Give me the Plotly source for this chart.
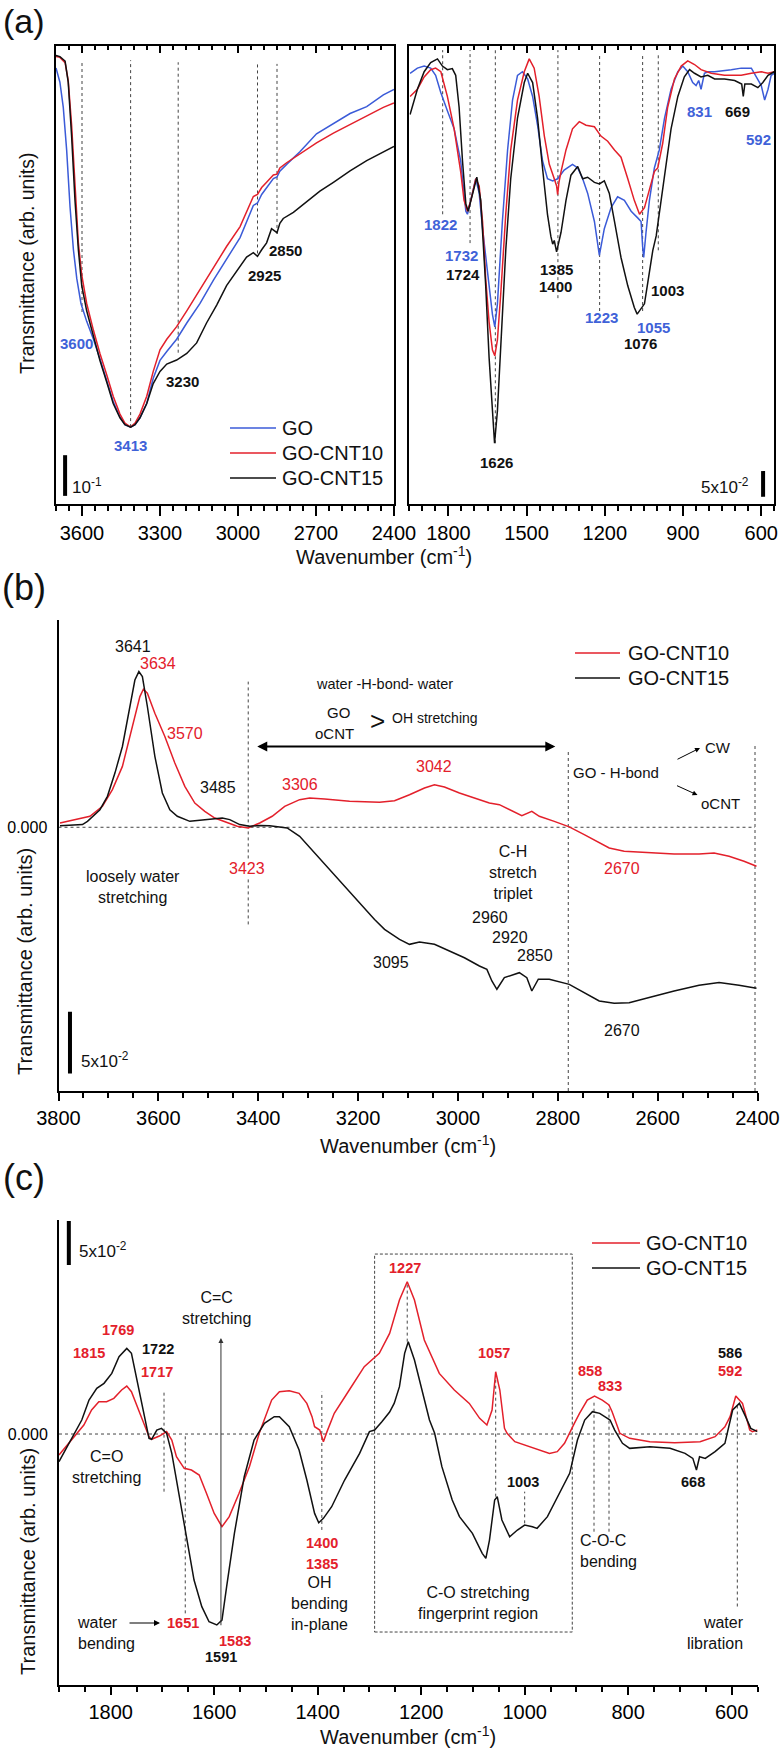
import plotly.graph_objects as go

W, H = 780, 1753
FONT = "Liberation Sans, Arial, Helvetica, sans-serif"
BLUE = "#3b5bd8"
RED = "#e3202b"
BLACK = "#111111"
GREY = "#444444"

# ---------------- panel (a) left : 3700-2400 cm-1 ----------------
a1_go_wn = [3700,3685,3672,3659,3646,3633,3620,3604,3582,3556,3531,3505,3480,3454,3435,3413,3396,3377,3351,3326,3300,3274,3236,3197,3146,3095,3044,2992,2941,2925,2909,2890,2864,2850,2839,2813,2762,2698,2633,2569,2505,2441,2400]
a1_go = [1.072,1.037,0.975,0.870,0.730,0.625,0.554,0.493,0.449,0.405,0.357,0.304,0.252,0.214,0.195,0.189,0.195,0.212,0.247,0.309,0.353,0.375,0.405,0.445,0.493,0.550,0.603,0.655,0.734,0.740,0.761,0.778,0.800,0.804,0.818,0.835,0.866,0.910,0.936,0.960,0.977,1.006,1.019]
a1_c10_wn = [3700,3685,3665,3653,3640,3627,3614,3601,3582,3556,3531,3505,3480,3454,3435,3413,3396,3377,3351,3326,3300,3274,3236,3197,3146,3095,3044,2992,2941,2925,2909,2890,2864,2850,2839,2813,2762,2698,2633,2569,2505,2441,2400]
a1_c10 = [1.100,1.098,1.085,1.041,0.932,0.774,0.642,0.563,0.493,0.427,0.370,0.318,0.265,0.221,0.199,0.189,0.199,0.221,0.265,0.326,0.379,0.405,0.436,0.475,0.528,0.581,0.633,0.682,0.756,0.761,0.778,0.791,0.809,0.811,0.826,0.839,0.861,0.888,0.912,0.933,0.956,0.975,0.986]
a1_c15_wn = [3700,3685,3665,3653,3640,3627,3614,3601,3582,3556,3531,3505,3480,3454,3435,3413,3396,3377,3351,3326,3300,3274,3236,3197,3159,3121,3082,3044,3005,2967,2941,2925,2909,2890,2871,2850,2839,2826,2787,2736,2685,2633,2569,2505,2441,2400]
a1_c15 = [1.103,1.100,1.089,1.037,0.905,0.747,0.625,0.537,0.475,0.414,0.353,0.300,0.247,0.212,0.195,0.189,0.195,0.212,0.247,0.296,0.326,0.344,0.354,0.370,0.396,0.445,0.489,0.537,0.572,0.607,0.618,0.609,0.625,0.642,0.677,0.667,0.690,0.702,0.717,0.743,0.769,0.791,0.819,0.844,0.866,0.879]

# ---------------- panel (a) right : 1950-550 cm-1 ----------------
a2_go_wn = [1947,1919,1893,1868,1849,1829,1804,1778,1753,1733,1727,1714,1695,1682,1669,1650,1631,1622,1612,1593,1573,1554,1535,1516,1496,1477,1458,1439,1420,1400,1381,1356,1324,1304,1285,1266,1240,1221,1202,1176,1151,1125,1099,1074,1061,1055,1051,1042,1029,1010,991,971,946,920,901,882,863,850,840,831,818,805,779,715,677,638,619,600,587,574,562,550]
a2_go = [0.837,0.847,0.851,0.847,0.833,0.799,0.764,0.729,0.667,0.569,0.563,0.590,0.632,0.604,0.535,0.451,0.368,0.344,0.389,0.549,0.688,0.785,0.833,0.840,0.826,0.792,0.736,0.667,0.632,0.628,0.632,0.649,0.660,0.653,0.632,0.604,0.549,0.483,0.535,0.576,0.597,0.590,0.569,0.556,0.549,0.500,0.479,0.528,0.590,0.653,0.688,0.750,0.806,0.840,0.851,0.840,0.819,0.813,0.823,0.806,0.837,0.840,0.840,0.844,0.847,0.847,0.830,0.813,0.785,0.806,0.833,0.837]
a2_c10_wn = [1947,1919,1893,1868,1849,1829,1804,1778,1753,1740,1727,1714,1695,1682,1669,1657,1644,1631,1622,1612,1599,1580,1561,1535,1509,1490,1471,1452,1432,1413,1394,1385,1381,1376,1368,1349,1324,1298,1272,1240,1215,1189,1163,1138,1112,1087,1067,1048,1029,1010,1003,997,978,959,933,907,882,856,831,792,741,677,638,600,574,550]
a2_c10 = [0.792,0.806,0.830,0.844,0.847,0.840,0.792,0.729,0.646,0.590,0.569,0.590,0.632,0.618,0.549,0.438,0.354,0.299,0.288,0.319,0.410,0.563,0.688,0.785,0.840,0.865,0.847,0.792,0.715,0.660,0.632,0.618,0.601,0.625,0.646,0.688,0.729,0.743,0.736,0.733,0.715,0.705,0.688,0.674,0.632,0.590,0.563,0.576,0.611,0.646,0.650,0.653,0.701,0.771,0.826,0.851,0.861,0.854,0.844,0.837,0.833,0.833,0.837,0.840,0.837,0.840]
a2_c15_wn = [1947,1919,1893,1868,1842,1823,1804,1785,1772,1759,1746,1733,1724,1708,1691,1676,1657,1644,1631,1623,1612,1599,1580,1561,1535,1509,1496,1477,1458,1439,1420,1407,1400,1394,1385,1368,1349,1330,1304,1285,1266,1240,1221,1202,1183,1163,1138,1112,1087,1076,1048,1035,1016,1003,991,971,946,920,895,875,856,831,805,779,741,702,675,669,663,638,613,594,574,550]
a2_c15 = [0.757,0.806,0.840,0.858,0.865,0.851,0.844,0.846,0.833,0.771,0.667,0.583,0.569,0.604,0.635,0.590,0.424,0.285,0.181,0.118,0.181,0.319,0.493,0.632,0.750,0.819,0.837,0.819,0.750,0.653,0.563,0.520,0.505,0.512,0.490,0.528,0.590,0.639,0.656,0.632,0.635,0.625,0.622,0.628,0.604,0.549,0.479,0.424,0.382,0.369,0.389,0.431,0.493,0.521,0.563,0.632,0.729,0.792,0.830,0.844,0.837,0.830,0.833,0.826,0.826,0.823,0.816,0.792,0.816,0.816,0.809,0.819,0.833,0.840]

# ---------------- panel (b) : difference spectra 3800-2400 ----------------
b_c10_wn = [3797,3767,3737,3712,3692,3672,3652,3637,3630,3622,3607,3587,3567,3547,3527,3507,3487,3467,3442,3420,3397,3372,3347,3317,3297,3267,3217,3157,3127,3097,3067,3047,3027,2997,2967,2937,2917,2897,2872,2852,2837,2807,2777,2747,2717,2697,2667,2617,2567,2517,2487,2457,2427,2402]
b_c10 = [0.0035,0.0062,0.0089,0.0169,0.0304,0.0492,0.0815,0.1056,0.1116,0.1083,0.0922,0.0734,0.0519,0.0331,0.0196,0.0129,0.0075,0.0048,0.0008,-0.0005,0.0035,0.0089,0.0169,0.0223,0.0237,0.0228,0.0210,0.0202,0.0215,0.0263,0.0317,0.0344,0.0325,0.0277,0.0237,0.0196,0.0183,0.0142,0.0094,0.0129,0.0089,0.0048,0.0003,-0.0059,-0.0126,-0.0167,-0.0194,-0.0207,-0.0215,-0.0215,-0.0207,-0.0234,-0.0274,-0.0315]
b_c15_wn = [3797,3752,3742,3717,3702,3687,3672,3659,3647,3639,3632,3622,3607,3592,3577,3562,3537,3517,3497,3472,3457,3437,3417,3397,3377,3342,3317,3287,3257,3227,3197,3167,3147,3117,3097,3077,3047,3017,2987,2957,2942,2932,2922,2907,2877,2862,2852,2839,2817,2777,2747,2717,2687,2657,2617,2567,2517,2477,2437,2402]
b_c15 = [0.0013,0.0022,0.0048,0.0142,0.0250,0.0438,0.0653,0.0922,0.1190,0.1258,0.1218,0.0976,0.0573,0.0277,0.0142,0.0089,0.0048,0.0056,0.0067,0.0075,0.0062,0.0022,0.0008,0.0015,0.0013,-0.0005,-0.0073,-0.0207,-0.0341,-0.0476,-0.0610,-0.0745,-0.0825,-0.0906,-0.0946,-0.0927,-0.0946,-0.1000,-0.1054,-0.1121,-0.1148,-0.1242,-0.1309,-0.1215,-0.1175,-0.1215,-0.1323,-0.1228,-0.1228,-0.1269,-0.1336,-0.1403,-0.1422,-0.1417,-0.1376,-0.1323,-0.1277,-0.1255,-0.1277,-0.1301]

# ---------------- panel (c) : difference spectra 1900-550 ----------------
c_c10_wn = [1900,1881,1861,1852,1837,1823,1808,1794,1779,1769,1760,1745,1731,1726,1721,1706,1692,1682,1673,1658,1644,1629,1615,1600,1585,1571,1552,1532,1513,1503,1489,1474,1455,1436,1421,1411,1406,1396,1389,1382,1368,1339,1310,1281,1261,1242,1227,1213,1194,1165,1136,1107,1087,1073,1063,1056,1048,1039,1034,1019,1000,971,952,937,923,904,894,879,865,850,837,831,821,816,797,758,710,661,632,613,603,592,579,565,560,550]
c_c10 = [-0.0239,-0.0106,0.0027,0.0102,0.0273,0.0367,0.0367,0.0405,0.0500,0.0545,0.0481,0.0254,0.0045,-0.0030,-0.0060,-0.0023,0.0027,-0.0068,-0.0258,-0.0390,-0.0409,-0.0466,-0.0674,-0.0902,-0.1053,-0.0939,-0.0674,-0.0371,0.0008,0.0159,0.0386,0.0481,0.0492,0.0462,0.0348,0.0197,0.0083,0.0045,-0.0087,0.0027,0.0235,0.0500,0.0765,0.0917,0.1144,0.1523,0.1731,0.1523,0.1068,0.0689,0.0500,0.0348,0.0178,0.0102,0.0273,0.0708,0.0500,0.0064,0.0008,-0.0087,-0.0125,-0.0182,-0.0220,-0.0200,-0.0106,0.0121,0.0235,0.0386,0.0432,0.0386,0.0330,0.0254,0.0102,0.0008,-0.0049,-0.0087,-0.0098,-0.0087,-0.0030,0.0083,0.0197,0.0432,0.0348,0.0045,0.0027,0.0045]
c_c15_wn = [1900,1881,1866,1856,1842,1827,1813,1798,1784,1769,1760,1745,1731,1726,1721,1711,1702,1692,1682,1668,1653,1639,1624,1610,1595,1585,1576,1561,1542,1523,1503,1484,1474,1455,1436,1421,1406,1398,1389,1373,1348,1319,1300,1290,1276,1261,1252,1242,1232,1225,1213,1198,1184,1174,1160,1140,1126,1101,1082,1075,1068,1058,1053,1044,1029,1014,1000,985,976,956,932,913,898,884,869,855,840,835,826,811,797,758,719,690,675,668,662,651,632,613,598,585,573,563,550]
c_c15 = [-0.0314,-0.0106,0.0064,0.0159,0.0386,0.0519,0.0576,0.0689,0.0879,0.0973,0.0917,0.0500,0.0083,-0.0049,-0.0060,0.0045,0.0064,0.0008,-0.0220,-0.0674,-0.1205,-0.1659,-0.1962,-0.2133,-0.2170,-0.2114,-0.1735,-0.1129,-0.0485,-0.0068,0.0121,0.0197,0.0197,0.0083,-0.0182,-0.0523,-0.0902,-0.1008,-0.0958,-0.0826,-0.0523,-0.0220,0.0027,0.0045,0.0140,0.0250,0.0350,0.0538,0.0917,0.1049,0.0841,0.0500,0.0159,0.0008,-0.0371,-0.0750,-0.0939,-0.1129,-0.1356,-0.1413,-0.1205,-0.0750,-0.0712,-0.0977,-0.1167,-0.1091,-0.1034,-0.1053,-0.1072,-0.0939,-0.0674,-0.0447,-0.0068,0.0159,0.0254,0.0235,0.0178,0.0159,0.0045,-0.0106,-0.0163,-0.0144,-0.0163,-0.0220,-0.0277,-0.0409,-0.0258,-0.0277,-0.0200,-0.0106,0.0273,0.0348,0.0197,0.0064,0.0027]

for a, b in [(a1_go_wn, a1_go), (a1_c10_wn, a1_c10), (a1_c15_wn, a1_c15), (a2_go_wn, a2_go),
             (a2_c10_wn, a2_c10), (a2_c15_wn, a2_c15), (b_c10_wn, b_c10), (b_c15_wn, b_c15),
             (c_c10_wn, c_c10), (c_c15_wn, c_c15)]:
    assert len(a) == len(b), (len(a), len(b))

# marker lines (peak positions): (wavenumber, y_low, y_high)
a1_marks = [(3600, 0.472, 1.086), (3413, 0.189, 1.091), (3230, 0.372, 1.086), (2925, 0.616, 1.082), (2850, 0.664, 1.082)]
a2_marks = [(1822, 0.563, 0.882), (1717, 0.507, 0.882), (1620, 0.118, 0.882), (1380, 0.400, 0.882),
            (1220, 0.375, 0.875), (1055, 0.375, 0.875), (995, 0.493, 0.875)]
b_marks = [(3420, -0.0785, 0.1177), (2779, -0.2131, 0.0632), (2405, -0.2131, 0.068)]
c_marks = [(1697, -0.0655, 0.050), (1656, -0.2038, 0.0), (1392, -0.109, 0.0481), (1227, 0.105, 0.171),
           (1056, -0.0712, 0.0614), (1000, -0.1015, -0.0655), (866, -0.111, 0.0386), (837, -0.111, 0.033),
           (589, -0.196, 0.0348)]


def P(x, y):
    return x / W, 1 - y / H


def dom_x(x0, x1):
    return [x0 / W, x1 / W]


def dom_y(y0, y1):
    return [1 - y1 / H, 1 - y0 / H]


fig = go.Figure()


def add_line(x, y, color, xa, ya):
    fig.add_trace(go.Scatter(x=x, y=y, mode="lines", line=dict(color=color, width=1.5),
                             xaxis=xa, yaxis=ya, showlegend=False, hoverinfo="skip"))


add_line(a1_go_wn, a1_go, BLUE, "x", "y")
add_line(a1_c10_wn, a1_c10, RED, "x", "y")
add_line(a1_c15_wn, a1_c15, BLACK, "x", "y")
add_line(a2_go_wn, a2_go, BLUE, "x2", "y2")
add_line(a2_c10_wn, a2_c10, RED, "x2", "y2")
add_line(a2_c15_wn, a2_c15, BLACK, "x2", "y2")
add_line(b_c10_wn, b_c10, RED, "x3", "y3")
add_line(b_c15_wn, b_c15, BLACK, "x3", "y3")
add_line(c_c10_wn, c_c10, RED, "x4", "y4")
add_line(c_c15_wn, c_c15, BLACK, "x4", "y4")
# empty traces to instantiate the top (inside-tick) axes of panel (a)
fig.add_trace(go.Scatter(x=[], y=[], xaxis="x5", yaxis="y", showlegend=False))
fig.add_trace(go.Scatter(x=[], y=[], xaxis="x6", yaxis="y2", showlegend=False))

tickfont = dict(family=FONT, size=20, color="black")


def xax(domain, rng, dtick, anchor, ticklen, mirror=False):
    return dict(domain=domain, range=rng, dtick=dtick, tick0=0, anchor=anchor, showline=True,
                linecolor="black", linewidth=2, mirror=mirror, ticks="outside", ticklen=ticklen,
                tickwidth=1.5, tickcolor="black", tickfont=tickfont, showgrid=False, zeroline=False,
                automargin=False,
                minor=dict(dtick=50, tick0=0, ticks="outside", ticklen=5, tickwidth=1.5, tickcolor="black",
                           showgrid=False))


def xtop(over, rng, anchor):
    return dict(overlaying=over, side="top", anchor=anchor, range=rng, dtick=300, tick0=0,
                ticks="inside", ticklen=7, tickwidth=1.5, tickcolor="black", showticklabels=False,
                showline=False, showgrid=False, zeroline=False, automargin=False,
                minor=dict(dtick=50, tick0=0, ticks="inside", ticklen=4, tickwidth=1.5, tickcolor="black",
                           showgrid=False))


def yax_box(domain, rng, anchor):
    return dict(domain=domain, range=rng, anchor=anchor, showline=True, mirror=True, linecolor="black",
                linewidth=2, ticks="", showticklabels=False, showgrid=False, zeroline=False, automargin=False)


def yax_diff(domain, rng, anchor):
    return dict(domain=domain, range=rng, anchor=anchor, showline=True, linecolor="black", linewidth=2,
                ticks="", tickvals=[0], ticktext=["0.000"], ticklabelstandoff=6, automargin=False,
                tickfont=dict(family=FONT, size=16, color="black"), showgrid=False, zeroline=False)


A1_X = [3700, 2400]
A2_X = [1950, 550]
layout = dict(
    width=W, height=H, margin=dict(l=0, r=0, t=0, b=0, autoexpand=False), paper_bgcolor="white",
    plot_bgcolor="white", showlegend=False, font=dict(family=FONT, color="black"),
    xaxis=xax(dom_x(56, 394), A1_X, 300, "y", 10, mirror=True),
    yaxis=yax_box(dom_y(46, 504), [0, 1.126], "x"),
    xaxis2=xax(dom_x(409.3, 774.3), A2_X, 300, "y2", 10, mirror=True),
    yaxis2=yax_box(dom_y(46, 504), [0, 0.890], "x2"),
    xaxis3=xax(dom_x(58.5, 757.5), [3800, 2400], 200, "y3", 8),
    yaxis3=yax_diff(dom_y(620, 1091), [-0.2131, 0.1675], "x3"),
    xaxis4=xax(dom_x(59, 757.5), [1900, 550], 200, "y4", 8),
    yaxis4=yax_diff(dom_y(1220, 1685), [-0.2852, 0.2432], "x4"),
    xaxis5=xtop("x", A1_X, "y"),
    xaxis6=xtop("x2", A2_X, "y2"),
)
fig.update_layout(**layout)

shapes = []
DOT = dict(color=GREY, width=1, dash="dot")


def vmark(xr, yr, wn, y0, y1, line=DOT):
    shapes.append(dict(type="line", xref=xr, yref=yr, x0=wn, x1=wn, y0=y0, y1=y1, line=line, layer="below"))


for wn, y0, y1 in a1_marks:
    vmark("x", "y", wn, y0, y1)
for wn, y0, y1 in a2_marks:
    vmark("x2", "y2", wn, y0, y1)
for wn, y0, y1 in b_marks:
    vmark("x3", "y3", wn, y0, y1)
for wn, y0, y1 in c_marks:
    vmark("x4", "y4", wn, y0, y1)

# zero lines
shapes.append(dict(type="line", xref="x3", yref="y3", x0=3800, x1=2405, y0=0, y1=0, line=DOT, layer="below"))
shapes.append(dict(type="line", xref="x4", yref="y4", x0=1900, x1=550, y0=0, y1=0, line=DOT, layer="below"))
# fingerprint region box
shapes.append(dict(type="rect", xref="x4", yref="y4", x0=1290, x1=908, y0=-0.225, y1=0.2045,
                   line=dict(color=GREY, width=1, dash="3px,2px"), layer="below"))

# scale bars
BAR = dict(color="black", width=4)
shapes.append(dict(type="line", xref="x", yref="y", x0=3665, x1=3665, y0=0.02, y1=0.12, line=BAR))
shapes.append(dict(type="line", xref="x2", yref="y2", x0=593, x1=593, y0=0.014, y1=0.064, line=BAR))
shapes.append(dict(type="line", xref="x3", yref="y3", x0=3777, x1=3777, y0=-0.199, y1=-0.149, line=BAR))
shapes.append(dict(type="line", xref="x4", yref="y4", x0=1881, x1=1881, y0=0.192, y1=0.242, line=BAR))

anns = []


def T(text, x, y, size=16, color=BLACK, bold=False, xanchor="center", align="center", angle=0, bg=None):
    xp, yp = P(x, y)
    if bold:
        text = "<b>" + text + "</b>"
    d = dict(text=text, x=xp, y=yp, xref="paper", yref="paper", showarrow=False, xanchor=xanchor,
             yanchor="middle", align=align, textangle=angle, borderpad=0,
             font=dict(family=FONT, size=size, color=color))
    if bg:
        d["bgcolor"] = bg
    anns.append(d)


def legend(x0, x1, ys, names, colors, tx):
    for y, n, c in zip(ys, names, colors):
        a, b = P(x0, y)
        c2, _ = P(x1, y)
        shapes.append(dict(type="line", xref="paper", yref="paper", x0=a, x1=c2, y0=b, y1=b,
                           line=dict(color=c, width=1.5)))
        T(n, tx, y, 20, xanchor="left")


LBL_BLUE = "#3f62d8"
LBL_RED = "#e3202b"

# ---- panel (a) texts
T("(a)", 24, 21, 34)
T("Transmittance (arb. units)", 27, 264, 19.5, angle=-90)
T("Wavenumber (cm<sup>-1</sup>)", 384, 555, 20)
for t, x, y in [("3600", 76, 343.6), ("3413", 130.7, 445.7)]:
    T(t, x, y, 15, LBL_BLUE, True)
for t, x, y in [("3230", 182.7, 381.4), ("2925", 264, 275), ("2850", 285, 250)]:
    T(t, x, y, 15, BLACK, True)
legend(230, 276, [427.9, 452.9, 477.9], ["GO", "GO-CNT10", "GO-CNT15"], [BLUE, RED, BLACK], 281)
T("10<sup>-1</sup>", 71, 486, 17, xanchor="left")
for t, x, y in [("1822", 440, 224.3), ("1732", 461.7, 255.4), ("1223", 601.7, 317.1), ("1055", 653.3, 327.5),
                ("831", 699, 111.8), ("592", 758.3, 139.3)]:
    T(t, x, y, 15, LBL_BLUE, True)
for t, x, y in [("1724", 462.7, 274.3), ("1626", 496.7, 462.5), ("1385", 556, 269.6), ("1400", 555.7, 286.8),
                ("1076", 640, 343.6), ("1003", 667.3, 291), ("669", 737.3, 111.8)]:
    T(t, x, y, 15, BLACK, True)
T("5x10<sup>-2</sup>", 750, 485.7, 17, xanchor="right")

# ---- panel (b) texts
T("(b)", 24, 587, 36)
T("Transmittance (arb. units)", 25, 962, 20, angle=-90)
T("Wavenumber (cm<sup>-1</sup>)", 408, 1144, 20)
for t, x, y in [("3641", 132.5, 646), ("3485", 217.5, 787), ("2960", 490, 918), ("2920", 510, 937),
                ("2850", 535, 956), ("3095", 391, 963), ("2670", 621.5, 1030)]:
    T(t, x, y, 16, BLACK)
for t, x, y in [("3634", 157.5, 663), ("3570", 185, 733), ("3306", 300, 784), ("3042", 434, 767),
                ("2670", 621.5, 868)]:
    T(t, x, y, 16, LBL_RED)
T("3423", 246.5, 868, 16, LBL_RED, bg="white")
T("water -H-bond- water", 384, 684, 14.5)
T("GO", 338, 712, 15)
T("oCNT", 334, 733, 15)
T(">", 377, 721, 26)
T("OH stretching", 435, 718, 14)
T("GO - H-bond", 616, 772.7, 15)
T("CW", 717.5, 747, 15)
T("oCNT", 720, 803, 15)
T("loosely water<br>stretching", 133, 887, 16)
T("C-H<br>stretch<br>triplet", 512.5, 872.7, 16)
T("5x10<sup>-2</sup>", 80, 1060, 17, xanchor="left")
legend(575, 620, [653, 678], ["GO-CNT10", "GO-CNT15"], [RED, BLACK], 627)

# ---- panel (c) texts
T("(c)", 24, 1177, 36)
T("Transmittance (arb. units)", 28, 1562, 20, angle=-90)
T("Wavenumber (cm<sup>-1</sup>)", 408, 1735, 20)
T("5x10<sup>-2</sup>", 77.5, 1250, 17, xanchor="left")
legend(592, 640, [1243, 1268], ["GO-CNT10", "GO-CNT15"], [RED, BLACK], 645)
for t, x, y in [("1815", 89, 1353), ("1769", 117.5, 1330), ("1717", 156.5, 1372), ("1227", 405, 1268),
                ("1057", 494, 1353), ("858", 590, 1371), ("833", 610, 1386), ("592", 730, 1371),
                ("1400", 321.5, 1543), ("1385", 321.5, 1564), ("1651", 182.5, 1623), ("1583", 235, 1641)]:
    T(t, x, y, 14.5, LBL_RED, True)
for t, x, y in [("1722", 157.5, 1349), ("586", 730, 1353), ("1003", 522.5, 1482), ("668", 692.5, 1482),
                ("1591", 221, 1657)]:
    T(t, x, y, 14.5, BLACK, True)
T("C=C<br>stretching", 216.5, 1308, 16)
T("C=O<br>stretching", 106.5, 1467, 16)
T("OH<br>bending<br>in-plane", 319, 1603, 16)
T("C-O-C<br>bending", 579, 1551, 16, xanchor="left", align="left")
T("C-O stretching<br>fingerprint region", 478, 1603, 16)
T("water<br>bending", 76, 1633, 16, xanchor="left", align="left")
T("water<br>libration", 745, 1633, 16, xanchor="right", align="right")

# ---- arrows
hx, hy = P(160, 1623)
anns.append(dict(x=hx, y=hy, xref="paper", yref="paper", text="", showarrow=True, ax=-32, ay=0,
                 arrowhead=2, arrowsize=1, arrowwidth=1.2, arrowcolor="black", standoff=0))
anns.append(dict(x=1587, y=0.109, xref="x4", yref="y4", ax=1587, ay=-0.219, axref="x4", ayref="y4",
                 text="", showarrow=True, arrowhead=2, arrowsize=1, arrowwidth=1, arrowcolor="#333333",
                 standoff=0, startstandoff=0))
anns.append(dict(x=2805, y=0.0653, xref="x3", yref="y3", ax=3405, ay=0.0653, axref="x3", ayref="y3",
                 text="", showarrow=True, arrowhead=2, arrowsize=1, arrowwidth=2, arrowcolor="black",
                 arrowside="end+start", standoff=0, startstandoff=0))
hx, hy = P(700, 748)
anns.append(dict(x=hx, y=hy, xref="paper", yref="paper", text="", showarrow=True, ax=-24, ay=12,
                 arrowhead=2, arrowsize=1, arrowwidth=1, arrowcolor="black", standoff=0))
hx, hy = P(697.5, 795)
anns.append(dict(x=hx, y=hy, xref="paper", yref="paper", text="", showarrow=True, ax=-22, ay=-10,
                 arrowhead=2, arrowsize=1, arrowwidth=1, arrowcolor="black", standoff=0))

fig.update_layout(shapes=shapes, annotations=anns)
fig.write_html("out.html", config={"displayModeBar": False},
               post_script="document.body.style.margin='0px';document.body.style.overflow='hidden';")
